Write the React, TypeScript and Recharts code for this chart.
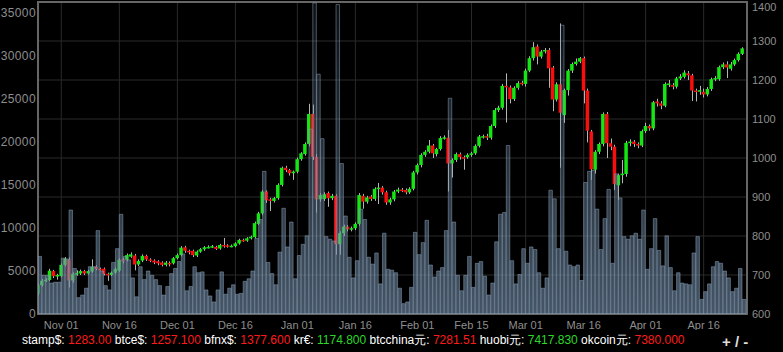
import { ComposedChart, Bar, XAxis, YAxis, CartesianGrid, ReferenceArea } from 'recharts';

// day index: 0 = Nov 01, first candle is Oct 26
const startDay = -6;

const opens = [
    653, 674, 685, 687, 710, 697, 697, 726, 740, 686,
    703, 704, 710, 704, 709, 721, 716, 716, 703, 700,
    706, 711, 740, 739, 747, 750, 727, 737, 749, 740,
    737, 735, 732, 726, 731, 730, 743, 751, 771, 762,
    762, 750, 760, 766, 771, 772, 772, 768, 777, 776,
    774, 774, 781, 790, 788, 794, 797, 831, 858, 914,
    894, 890, 897, 931, 975, 969, 961, 965, 997, 1010,
    1036, 1113, 1003, 894, 895, 910, 897, 903, 779, 807,
    824, 817, 820, 831, 903, 888, 901, 895, 921, 924,
    912, 886, 894, 914, 919, 918, 912, 921, 963, 982,
    1008, 1016, 1032, 1010, 1023, 1051, 1052, 986, 995, 1010,
    1002, 1002, 1008, 1012, 1031, 1055, 1056, 1052, 1082, 1123,
    1129, 1185, 1181, 1151, 1180, 1193, 1190, 1224, 1256, 1286,
    1260, 1273, 1277, 1232, 1150, 1189, 1110, 1174, 1224, 1241,
    1247, 1256, 1173, 1068, 970, 1016, 1036, 1113, 1038, 1029,
    930, 956, 959, 1039, 1042, 1036, 1032, 1069, 1082, 1076,
    1145, 1140, 1134, 1190, 1187, 1183, 1204, 1208, 1217, 1212,
    1173, 1170, 1170, 1163, 1177, 1202, 1202, 1233, 1240, 1229,
    1240, 1251, 1267,
];

const closes = [
    674, 685, 688, 711, 697, 700, 726, 742, 686, 703,
    705, 710, 704, 710, 721, 716, 714, 703, 699, 706,
    715, 739, 735, 751, 753, 727, 736, 749, 740, 737,
    732, 730, 726, 732, 729, 743, 751, 770, 762, 758,
    751, 760, 766, 771, 772, 774, 767, 777, 776, 774,
    775, 781, 790, 789, 794, 798, 833, 858, 914, 892,
    890, 897, 931, 975, 969, 961, 965, 997, 1012, 1036,
    1113, 1003, 894, 905, 907, 897, 903, 779, 807, 824,
    817, 820, 831, 905, 888, 899, 895, 921, 924, 912,
    886, 894, 914, 919, 918, 912, 921, 963, 982, 1008,
    1016, 1032, 1012, 1023, 1051, 1053, 986, 995, 1010, 1002,
    1000, 1008, 1012, 1031, 1055, 1056, 1052, 1082, 1123, 1129,
    1185, 1181, 1151, 1180, 1192, 1191, 1224, 1256, 1284, 1260,
    1273, 1277, 1230, 1150, 1189, 1116, 1174, 1224, 1241, 1247,
    1256, 1173, 1070, 971, 1016, 1036, 1113, 1038, 1029, 933,
    956, 960, 1039, 1042, 1036, 1032, 1069, 1082, 1076, 1143,
    1140, 1134, 1190, 1191, 1183, 1204, 1209, 1219, 1212, 1173,
    1170, 1174, 1163, 1177, 1202, 1205, 1233, 1240, 1232, 1240,
    1251, 1267, 1281,
];

const highs = [
    678, 690, 692, 716, 713, 703, 730, 746, 745, 707,
    712, 714, 713, 713, 740, 725, 719, 719, 706, 709,
    719, 743, 744, 755, 758, 754, 740, 753, 752, 743,
    740, 738, 735, 736, 735, 746, 755, 774, 775, 765,
    765, 763, 769, 774, 776, 777, 775, 780, 795, 779,
    778, 784, 793, 793, 797, 801, 837, 862, 918, 917,
    898, 900, 935, 978, 980, 972, 968, 1001, 1015, 1040,
    1139, 1137, 1010, 910, 912, 914, 908, 907, 812, 829,
    828, 824, 835, 910, 908, 903, 905, 925, 936, 928,
    916, 898, 918, 924, 923, 922, 925, 967, 986, 1012,
    1020, 1046, 1036, 1026, 1056, 1058, 1072, 999, 1014, 1014,
    1006, 1012, 1016, 1035, 1059, 1060, 1062, 1086, 1128, 1134,
    1190, 1217, 1186, 1184, 1197, 1198, 1229, 1261, 1297, 1291,
    1277, 1282, 1282, 1236, 1194, 1345, 1178, 1228, 1245, 1255,
    1259, 1260, 1178, 1072, 1020, 1040, 1117, 1118, 1050, 1034,
    960, 995, 1044, 1048, 1046, 1040, 1073, 1090, 1086, 1146,
    1152, 1146, 1194, 1200, 1192, 1208, 1215, 1225, 1223, 1216,
    1178, 1185, 1178, 1182, 1206, 1210, 1237, 1245, 1248, 1246,
    1255, 1271, 1284,
];

const lows = [
    648, 670, 682, 684, 692, 688, 694, 722, 668, 680,
    698, 700, 700, 701, 706, 712, 711, 699, 685, 697,
    703, 708, 730, 735, 744, 712, 723, 733, 736, 733,
    728, 725, 722, 722, 722, 727, 740, 748, 757, 753,
    746, 746, 757, 762, 768, 769, 764, 765, 770, 770,
    771, 771, 778, 785, 785, 791, 794, 828, 853, 885,
    864, 886, 893, 927, 964, 955, 944, 961, 993, 1006,
    1030, 995, 860, 888, 890, 875, 892, 752, 752, 800,
    812, 812, 815, 826, 870, 883, 890, 890, 882, 906,
    880, 880, 889, 910, 913, 907, 908, 917, 958, 976,
    1003, 1012, 1000, 1004, 1019, 1047, 914, 950, 990, 996,
    970, 998, 1003, 1008, 1027, 1050, 1046, 1047, 1077, 1118,
    1124, 1091, 1140, 1146, 1175, 1186, 1183, 1220, 1250, 1240,
    1255, 1268, 1180, 1120, 1145, 975, 1090, 1160, 1218, 1237,
    1243, 1140, 1040, 944, 960, 1010, 1030, 1000, 1020, 918,
    892, 935, 952, 1030, 1028, 1025, 1028, 1064, 1070, 1071,
    1132, 1125, 1130, 1182, 1176, 1178, 1200, 1204, 1200, 1146,
    1145, 1162, 1155, 1158, 1172, 1197, 1198, 1228, 1205, 1224,
    1236, 1247, 1264,
];

const volumes = [
    6700, 4500, 4500, 3600, 3700, 3700, 6500, 6400, 12100, 5300,
    1900, 2200, 3000, 5500, 5500, 9700, 5000, 3300, 2800, 6000,
    7600, 11600, 6700, 6300, 4200, 2000, 5500, 4000, 5000, 4500,
    4000, 3300, 2200, 3200, 4700, 5300, 6100, 7000, 2700, 3200,
    5500, 4800, 4900, 2800, 2100, 1400, 2800, 4900, 2300, 3000,
    3400, 2300, 2400, 3800, 4100, 5000, 8800, 11000, 16600, 6000,
    4700, 3400, 7200, 12300, 7800, 10700, 4100, 6800, 8100, 9100,
    21500, 36200, 27900, 20400, 9000, 8700, 8500, 36000, 17500, 11400,
    6600, 4200, 6200, 12200, 11000, 6600, 5800, 7100, 3500, 9400,
    5200, 5100, 4800, 3000, 1200, 1400, 3100, 9500, 6900, 8300,
    10900, 5700, 4300, 5000, 5400, 9700, 25100, 10700, 4500, 2700,
    4500, 6700, 3100, 5900, 6100, 4400, 2200, 3600, 8400, 11600,
    11800, 19600, 6200, 3500, 4600, 7600, 5900, 7800, 7500, 4800,
    3000, 4200, 14400, 13400, 7600, 33600, 7300, 5700, 5500, 5700,
    3900, 15300, 16600, 16700, 12200, 7500, 11100, 14500, 5900, 16300,
    13500, 9000, 8700, 9100, 9400, 8700, 12100, 5200, 7600, 11100,
    7400, 5600, 9100, 5400, 2700, 4800, 3600, 3500, 3400, 7100,
    9000, 1700, 2600, 3500, 5500, 6100, 5900, 5000, 4200, 2600,
    3000, 5300, 1700,
];

const tickDays = [0, 15, 30, 45, 61, 76, 92, 106, 120, 135, 151, 166];
const tickLabels = ['Nov 01', 'Nov 16', 'Dec 01', 'Dec 16', 'Jan 01', 'Jan 16', 'Feb 01', 'Feb 15', 'Mar 01', 'Mar 16', 'Apr 01', 'Apr 16'];
const volumeTicks = [0, 5000, 10000, 15000, 20000, 25000, 30000, 35000];
const priceTicks = [600, 700, 800, 900, 1000, 1100, 1200, 1300, 1400];

const tickers = [
    { label: 'stamp$:', value: '1283.00', up: false },
    { label: 'btce$:', value: '1257.100', up: false },
    { label: 'bfnx$:', value: '1377.600', up: false },
    { label: 'kr€:', value: '1174.800', up: true },
    { label: 'btcchina元:', value: '7281.51', up: false },
    { label: 'huobi元:', value: '7417.830', up: true },
    { label: 'okcoin元:', value: '7380.000', up: false },
];

const GREEN = '#14e614';
const RED = '#f80e0e';
const FONT = "'Liberation Sans', Arial, Helvetica, sans-serif";

const rows = opens.map((open, i) => ({
    t: startDay + i,
    open,
    close: closes[i],
    high: highs[i],
    low: lows[i],
    volume: volumes[i],
}));

const Candle = (props: any) => {
    const { x, y, width, height, payload } = props;
    if (x == null || y == null) return null;
    const { open, close, high, low } = payload;
    const top = Math.min(y, y + height);
    const h = Math.abs(height);
    const k = h / (high - low || 1);
    const cx = Math.round(x + width / 2) + 0.5;
    const bodyTop = top + (high - Math.max(open, close)) * k;
    const bodyBottom = top + (high - Math.min(open, close)) * k;
    return (
        <g>
            <line x1={cx} x2={cx} y1={top} y2={top + h} stroke="#b5b5b5" strokeWidth={1} />
            <rect x={x} y={bodyTop} width={width} height={Math.max(bodyBottom - bodyTop, 1.5)} fill={close >= open ? GREEN : RED} />
        </g>
    );
};

// right axis label; the top one is nudged down so it stays inside the page
const PriceTick = (props: any) => {
    const { x, y, payload } = props;
    const dy = payload.value === 1400 ? 5 : 0;
    return (
        <text x={x} y={y + dy} dy="0.355em" textAnchor="start" fill="#8e8e8e" fontSize={11}>
            {payload.value}
        </text>
    );
};

export default function App() {
    return (
        <div style={{ position: 'fixed', left: 0, top: 0, width: 783, height: 352, background: '#000', overflow: 'hidden', fontFamily: FONT }}>
            <ComposedChart width={783} height={330} data={rows} margin={{ top: 2, right: 0, left: 0, bottom: 0 }}>
                <defs>
                    <linearGradient id="volFill" gradientUnits="userSpaceOnUse" x1="0" y1="2" x2="0" y2="314">
                        <stop offset="0%" stopColor="rgb(105,130,155)" stopOpacity={0.12} />
                        <stop offset="100%" stopColor="rgb(105,130,155)" stopOpacity={0.66} />
                    </linearGradient>
                </defs>
                <XAxis
                    xAxisId="c"
                    dataKey="t"
                    type="number"
                    domain={[-6.02, 177.2]}
                    allowDataOverflow
                    ticks={tickDays}
                    interval={0}
                    tickFormatter={(v: number) => tickLabels[tickDays.indexOf(v)] ?? ''}
                    axisLine={false}
                    tickLine={false}
                    tickSize={0}
                    tickMargin={7}
                    height={16}
                    tick={{ fill: '#8e8e8e', fontSize: 11 }}
                />
                <XAxis xAxisId="v" dataKey="t" type="number" domain={[-6.52, 176.7]} allowDataOverflow hide />
                <YAxis
                    yAxisId="left"
                    orientation="left"
                    width={38}
                    domain={[0, 36300]}
                    allowDataOverflow
                    ticks={volumeTicks}
                    interval={0}
                    axisLine={false}
                    tickLine={false}
                    tickSize={0}
                    tickMargin={2}
                    tick={{ fill: '#8e8e8e', fontSize: 12, letterSpacing: 0.4 }}
                />
                <YAxis
                    yAxisId="right"
                    orientation="right"
                    width={36}
                    domain={[600, 1400]}
                    allowDataOverflow
                    ticks={priceTicks}
                    interval={0}
                    axisLine={false}
                    tickLine={false}
                    tickSize={0}
                    tickMargin={5}
                    tick={<PriceTick />}
                />
                <CartesianGrid xAxisId="c" yAxisId="right" stroke="#2a2a2a" strokeWidth={1} />
                <Bar
                    xAxisId="c"
                    yAxisId="right"
                    dataKey={(d: any) => [d.low, d.high]}
                    barSize={4}
                    shape={Candle}
                    isAnimationActive={false}
                />
                <Bar
                    xAxisId="v"
                    yAxisId="left"
                    dataKey="volume"
                    barSize={3.5}
                    fill="url(#volFill)"
                    stroke="rgba(140,162,185,0.5)"
                    strokeWidth={1}
                    isAnimationActive={false}
                />
                <ReferenceArea
                    xAxisId="c"
                    yAxisId="right"
                    x1={-6.02}
                    x2={177.2}
                    y1={600}
                    y2={1400}
                    fill="none"
                    fillOpacity={0}
                    stroke="#666"
                    strokeWidth={2}
                    ifOverflow="visible"
                />
            </ComposedChart>
            <div style={{ position: 'absolute', left: 22, top: 333, fontSize: 12, lineHeight: '14px', whiteSpace: 'pre', color: '#fff' }}>
                {tickers.map((tk) => (
                    <span key={tk.label}>
                        {tk.label} <span style={{ color: tk.up ? '#2bd82b' : '#ff1a1a' }}>{tk.value}</span>{' '}
                    </span>
                ))}
            </div>
            <div style={{ position: 'absolute', left: 722, top: 334, fontSize: 15, lineHeight: '15px', fontWeight: 700, color: '#ddd', whiteSpace: 'pre' }}>
                + / -
            </div>
        </div>
    );
}
